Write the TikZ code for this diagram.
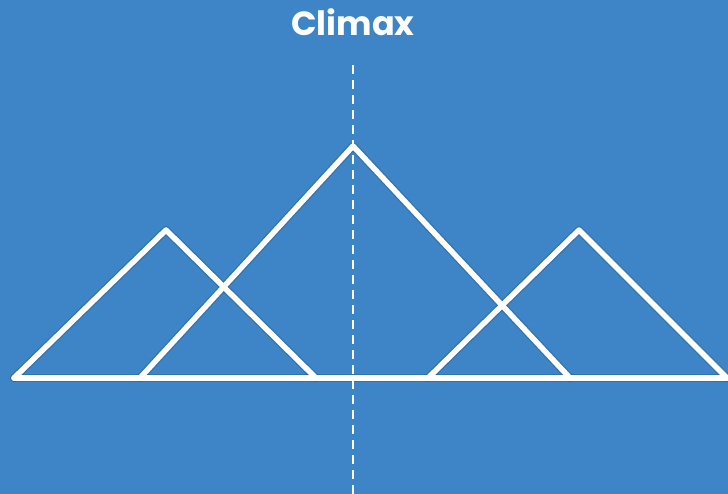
\documentclass[tikz,border=0pt]{standalone}
\usepackage{fontspec}
\newfontfamily\titlefont{Poppins}
\definecolor{bgblue}{HTML}{3D85C6}
\definecolor{shadowblue}{HTML}{1F4F7F}
\tikzset{
  peak/.style={white, line width=5.5pt, line join=round, line cap=round},
  peakshadow/.style={shadowblue, opacity=0.35, line width=8pt, line join=round, line cap=round},
}
\begin{document}
\begin{tikzpicture}[x=1pt, y=-1pt]
    \fill[bgblue] (0,0) rectangle (728,494);
    \useasboundingbox (0,0) rectangle (728,494);

    % corners of the three triangles
    \coordinate (l1) at (14,378);   \coordinate (ltop) at (166,230); \coordinate (l2) at (316,378);
    \coordinate (c1) at (140,378);  \coordinate (ctop) at (353,146); \coordinate (c2) at (570,378);
    \coordinate (r1) at (428,378);  \coordinate (rtop) at (579,230); \coordinate (r2) at (727,378);

    \node[text=white, font=\titlefont\bfseries\fontsize{33.5}{36}\selectfont] (title) at (353,22) {Climax};

    % shadows
    \begin{scope}[shift={(2,5)}]
        \draw[peakshadow] (l1) -- (ltop) -- (l2);
        \draw[peakshadow] (c1) -- (ctop) -- (c2);
        \draw[peakshadow] (r1) -- (rtop) -- (r2);
        \draw[peakshadow] (l1) -- (r2);
    \end{scope}

    \draw[peak] (l1) -- (ltop) -- (l2);
    \draw[peak] (c1) -- (ctop) -- (c2);
    \draw[peak] (r1) -- (rtop) -- (r2);
    \draw[peak] (l1) -- (r2);

    % climax marker
    \draw[white, line width=1.5pt, dash pattern=on 9pt off 6pt] (353,65) -- (353,494);
\end{tikzpicture}
\end{document}
